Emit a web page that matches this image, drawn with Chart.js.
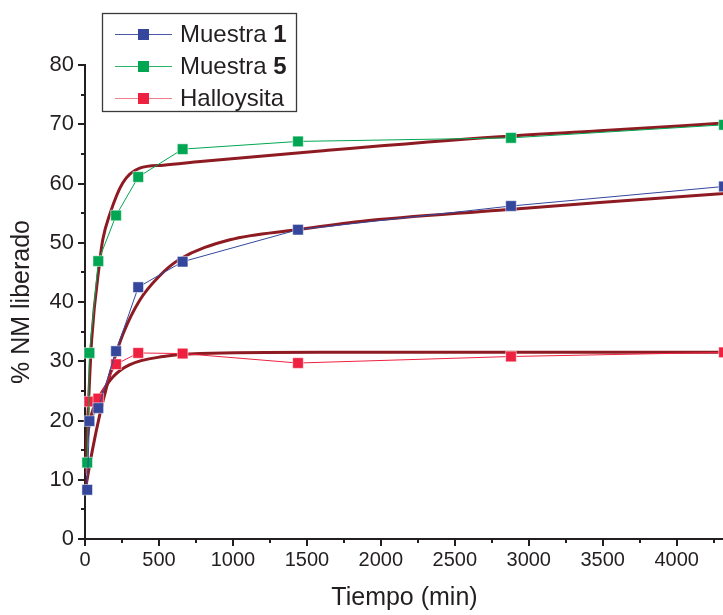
<!DOCTYPE html>
<html>
<head>
<meta charset="utf-8">
<title>Liberación de NM</title>
<script src="https://cdn.jsdelivr.net/npm/chart.js@4.4.1/dist/chart.umd.min.js"></script>
<style>
  html, body { margin: 0; padding: 0; background: #fff; overflow: hidden; }
  #wrap { width: 740px; height: 615px; }
</style>
</head>
<body>
<div id="wrap"><canvas id="releaseChart" width="740" height="615"></canvas></div>
<script>
// measured release points (min, %)
const times = [15, 30, 90, 210, 360, 660, 1440, 2880, 4320];
const muestra1 = [8.3, 19.9, 22.1, 31.7, 42.5, 46.8, 52.2, 56.2, 59.5];
const muestra5 = [12.9, 31.4, 46.9, 54.6, 61.1, 65.8, 67.1, 67.7, 69.9];
const timesHalloysita = [30, 90, 210, 360, 660, 1440, 2880, 4320];
const halloysita = [23.2, 23.7, 29.5, 31.4, 31.3, 29.7, 30.8, 31.5];

// fitted curves, read along the drawn fits
const fit1Times = [0, 50, 100, 150, 200, 260, 370, 500, 640, 980, 1430, 1860, 2800, 3480, 4320];
const fit1Values = [8.0, 15.0, 21.0, 26.0, 30.5, 34.8, 40.3, 44.3, 47.2, 50.5, 52.2, 53.6, 55.5, 56.8, 58.3];
const fit5Times = [0, 20, 45, 100, 120, 170, 255, 370, 530, 780, 1590, 2800, 3480, 4320];
const fit5Values = [11.0, 21.0, 33.6, 46.9, 50.5, 55.0, 60.1, 62.6, 63.1, 63.7, 65.5, 67.9, 68.9, 70.2];
const fitHTimes = [0, 30, 60, 100, 190, 300, 530, 780, 1590, 4320];
const fitHValues = [14.0, 19.5, 22.3, 24.2, 27.4, 29.4, 30.8, 31.3, 31.5, 31.5];

// axis ticks
const xTicks = [0, 500, 1000, 1500, 2000, 2500, 3000, 3500, 4000];
const xMinor = [250, 750, 1250, 1750, 2250, 2750, 3250, 3750, 4250];
const yTicks = [0, 10, 20, 30, 40, 50, 60, 70, 80];
const yMinor = [5, 15, 25, 35, 45, 55, 65, 75];

const axisColor = '#231f20';
const blue = '#34479c';
const green = '#00a651';
const red = '#ee2140';
const fitColor = '#8e1b22';
const font = '"Liberation Sans", Arial, sans-serif';

// legend entries: plain text, bold part, colours
const legendItems = [
  { text: 'Muestra ', bold: '1', color: blue, line: '#4a5aa8' },
  { text: 'Muestra ', bold: '5', color: green, line: '#2cb466' },
  { text: 'Halloysita', bold: '', color: red, line: '#f0808e' }
];

function pts(xs, ys) {
  return xs.map((x, i) => ({ x: x, y: ys[i] }));
}

function dataSet(label, xs, ys, color) {
  return {
    label: label,
    data: pts(xs, ys),
    showLine: true,
    borderColor: color,
    borderWidth: 1,
    backgroundColor: color,
    pointStyle: 'rect',
    pointRadius: 7.5,
    pointHoverRadius: 7.5,
    pointBorderColor: 'rgba(255,255,255,0.5)',
    pointBorderWidth: 1,
    clip: false,
    order: 1
  };
}

function fitSet(xs, ys) {
  return {
    label: 'fit',
    data: pts(xs, ys),
    showLine: true,
    borderColor: fitColor,
    borderWidth: 3,
    pointRadius: 0,
    cubicInterpolationMode: 'monotone',
    order: 2
  };
}

const minorTicks = {
  id: 'minorTicks',
  afterDraw(chart) {
    const { ctx, scales: { x, y } } = chart;
    ctx.save();
    ctx.strokeStyle = axisColor;
    ctx.lineWidth = 2;
    ctx.beginPath();
    xMinor.forEach(v => {
      const px = Math.round(x.getPixelForValue(v));
      ctx.moveTo(px, y.bottom);
      ctx.lineTo(px, y.bottom + 4);
    });
    yMinor.forEach(v => {
      const py = Math.round(y.getPixelForValue(v));
      ctx.moveTo(x.left, py);
      ctx.lineTo(x.left - 4, py);
    });
    ctx.stroke();
    ctx.restore();
  }
};

const boxLegend = {
  id: 'boxLegend',
  afterDraw(chart) {
    const ctx = chart.ctx;
    ctx.save();
    ctx.fillStyle = '#fff';
    ctx.fillRect(102.5, 13.5, 194, 98);
    ctx.strokeStyle = '#3a3a3a';
    ctx.lineWidth = 1.3;
    ctx.strokeRect(102.5, 13.5, 194, 98);
    legendItems.forEach((item, i) => {
      const cy = 34 + i * 32;
      ctx.strokeStyle = item.line;
      ctx.lineWidth = 1;
      ctx.beginPath();
      ctx.moveTo(115, cy + 0.5);
      ctx.lineTo(172, cy + 0.5);
      ctx.stroke();
      ctx.fillStyle = item.color;
      ctx.fillRect(138, cy - 5, 11, 11);
      ctx.fillStyle = axisColor;
      ctx.textBaseline = 'middle';
      ctx.font = '24px ' + font;
      ctx.fillText(item.text, 180, cy + 1);
      if (item.bold) {
        const w = ctx.measureText(item.text).width;
        ctx.font = 'bold 24px ' + font;
        ctx.fillText(item.bold, 180 + w, cy + 1);
      }
    });
    ctx.restore();
  }
};

new Chart(document.getElementById('releaseChart'), {
  type: 'scatter',
  data: {
    datasets: [
      dataSet('Muestra 1', times, muestra1, blue),
      dataSet('Muestra 5', times, muestra5, green),
      dataSet('Halloysita', timesHalloysita, halloysita, red),
      fitSet(fit1Times, fit1Values),
      fitSet(fit5Times, fit5Values),
      fitSet(fitHTimes, fitHValues)
    ]
  },
  options: {
    responsive: false,
    animation: false,
    devicePixelRatio: 1,
    layout: { padding: { top: 65, right: 16, left: 0, bottom: 0 } },
    plugins: {
      legend: { display: false },
      tooltip: { enabled: false }
    },
    scales: {
      x: {
        type: 'linear',
        min: 0,
        max: 4320,
        afterBuildTicks: s => { s.ticks = xTicks.map(v => ({ value: v })); },
        afterFit: s => { s.height = 76; },
        border: { color: axisColor, width: 2 },
        grid: { drawOnChartArea: false, tickLength: 7, color: axisColor, lineWidth: 2 },
        ticks: {
          color: axisColor,
          font: { family: font, size: 20 },
          padding: 2,
          maxRotation: 0,
          callback: v => String(v)
        },
        title: {
          display: true,
          text: 'Tiempo (min)',
          color: axisColor,
          font: { family: font, size: 25, lineHeight: 1.2 },
          padding: { top: 0, bottom: 2 }
        }
      },
      y: {
        min: 0,
        max: 80,
        afterBuildTicks: s => { s.ticks = yTicks.map(v => ({ value: v })); },
        afterFit: s => { s.width = 85; },
        border: { color: axisColor, width: 2 },
        grid: { drawOnChartArea: false, tickLength: 7, color: axisColor, lineWidth: 2 },
        ticks: { color: axisColor, font: { family: font, size: 22 }, padding: 4, callback: v => String(v) },
        title: {
          display: true,
          text: '% NM liberado',
          color: axisColor,
          font: { family: font, size: 25, lineHeight: 1.2 },
          padding: { top: 7, bottom: 0 }
        }
      }
    }
  },
  plugins: [minorTicks, boxLegend]
});
</script>
</body>
</html>
